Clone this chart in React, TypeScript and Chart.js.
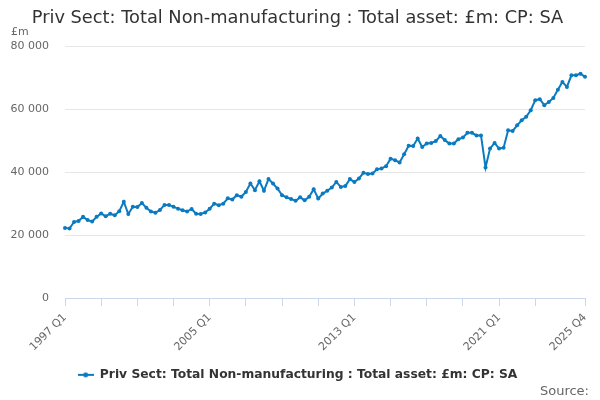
import { useEffect, useRef } from "react";
import { Chart, registerables } from "chart.js";

Chart.register(...registerables);

const FONT = "'DejaVu Sans', Verdana, sans-serif";
const BLUE = "#0b7bc1";

const TITLE = "Priv Sect: Total Non-manufacturing : Total asset: £m: CP: SA";
const SERIES = "Priv Sect: Total Non-manufacturing : Total asset: £m: CP: SA";

const firstYear = 1997;
const lastYear = 2025;
const quarters = ["Q1", "Q2", "Q3", "Q4"];

// quarterly values, £m, 1997 Q1 .. 2025 Q4
const values = [
  22300, 22100, 24200, 24500, 25800, 24800, 24300, 25800,
  26900, 26000, 26800, 26300, 27600, 30600, 26700, 29000,
  28900, 30200, 28700, 27500, 27100, 28000, 29600, 29600,
  29000, 28400, 27900, 27500, 28300, 26800, 26700, 27200,
  28400, 30000, 29500, 30000, 31700, 31300, 32700, 32200,
  33700, 36400, 34300, 37100, 34100, 37800, 36400, 34800,
  32700, 32000, 31500, 30900, 32000, 31100, 32200, 34600,
  31600, 33200, 34100, 35100, 36900, 35300, 35600, 37800,
  36900, 38000, 39800, 39400, 39600, 40900, 41200, 41900,
  44300, 43800, 43100, 45700, 48400, 48300, 50700, 48000,
  49100, 49300, 49900, 51500, 50200, 49100, 49100, 50500,
  51000, 52500, 52500, 51700, 51700, 41500, 47500, 49300,
  47500, 47800, 53300, 53100, 54900, 56500, 57600, 59700,
  62900, 63200, 61300, 62300, 63600, 66200, 68700, 67100,
  70800, 70800, 71300, 70300,
];

const labelledTicks = ["1997 Q1", "2005 Q1", "2013 Q1", "2021 Q1", "2025 Q4"];
const yTicks = [0, 20000, 40000, 60000, 80000];

const categories: string[] = [];
for (let y = firstYear; y <= lastYear; y++) {
  for (const q of quarters) categories.push(`${y} ${q}`);
}

function fmt(v: number): string {
  return String(v).replace(/\B(?=(\d{3})+(?!\d))/g, " ");
}

function legendMarker(): HTMLCanvasElement {
  const c = document.createElement("canvas");
  c.width = 16;
  c.height = 8;
  const g = c.getContext("2d")!;
  g.strokeStyle = BLUE;
  g.lineWidth = 2;
  g.beginPath();
  g.moveTo(0, 4);
  g.lineTo(16, 4);
  g.stroke();
  g.fillStyle = BLUE;
  g.beginPath();
  g.arc(8, 4, 2.5, 0, Math.PI * 2);
  g.fill();
  return c;
}

export default function App() {
  const canvasRef = useRef<HTMLCanvasElement>(null);

  useEffect(() => {
    document.body.style.margin = "0";
    if (!canvasRef.current) return;
    const last = categories.length - 1;

    const chart = new Chart(canvasRef.current, {
      type: "line",
      data: {
        labels: categories,
        datasets: [
          {
            label: SERIES,
            data: values,
            borderColor: BLUE,
            backgroundColor: BLUE,
            borderWidth: 2,
            pointRadius: 2,
            pointBorderWidth: 0,
            pointBackgroundColor: BLUE,
            tension: 0,
          },
        ],
      },
      options: {
        animation: false,
        responsive: true,
        maintainAspectRatio: false,
        layout: { padding: { left: 10, right: 15, top: 0, bottom: 9 } },
        plugins: {
          title: {
            display: true,
            text: TITLE,
            color: "#333333",
            font: { family: FONT, size: 17.8, weight: "normal" },
            padding: { top: 8, bottom: 17 },
          },
          legend: {
            position: "bottom",
            labels: {
              usePointStyle: true,
              pointStyle: legendMarker(),
              pointStyleWidth: 16,
              color: "#333333",
              font: { family: FONT, size: 12.3, weight: "bold" },
              padding: 10,
            },
          },
          tooltip: { enabled: false },
        },
        scales: {
          x: {
            afterFit: (axis: any) => {
              axis.paddingLeft = 0;
              axis.paddingRight = 0;
            },
            grid: {
              drawOnChartArea: false,
              drawTicks: true,
              tickLength: 8,
              tickColor: (ctx: any) =>
                (ctx.index % 8 === 0 && ctx.index <= 104) || ctx.index === last
                  ? "#ccd6eb"
                  : "rgba(0,0,0,0)",
            },
            border: { color: "#ccd6eb", width: 1 },
            ticks: {
              autoSkip: false,
              maxRotation: 45,
              minRotation: 45,
              padding: 5,
              color: "#666666",
              font: { family: FONT, size: 11 },
              callback: (_v: any, i: number) =>
                labelledTicks.includes(categories[i]) ? categories[i] : "",
            },
          },
          y: {
            min: 0,
            max: 80000,
            afterBuildTicks: (axis: any) => {
              axis.ticks = yTicks.map((v) => ({ value: v }));
            },
            afterFit: (axis: any) => {
              axis.width = 55;
            },
            grid: { color: "#e6e6e6", drawTicks: false },
            border: { display: false },
            ticks: {
              padding: 16,
              color: "#666666",
              font: { family: FONT, size: 11 },
              callback: (v: any) => fmt(Number(v)),
            },
          },
        },
      },
    });

    return () => chart.destroy();
  }, []);

  return (
    <div style={{ position: "relative", width: 600, height: 400, fontFamily: FONT }}>
      <canvas ref={canvasRef} />
      <div style={{ position: "absolute", left: 11, top: 25, fontSize: 11, color: "#666666" }}>
        £m
      </div>
      <div style={{ position: "absolute", right: 11, top: 383, fontSize: 13, color: "#666666" }}>
        Source:
      </div>
    </div>
  );
}
